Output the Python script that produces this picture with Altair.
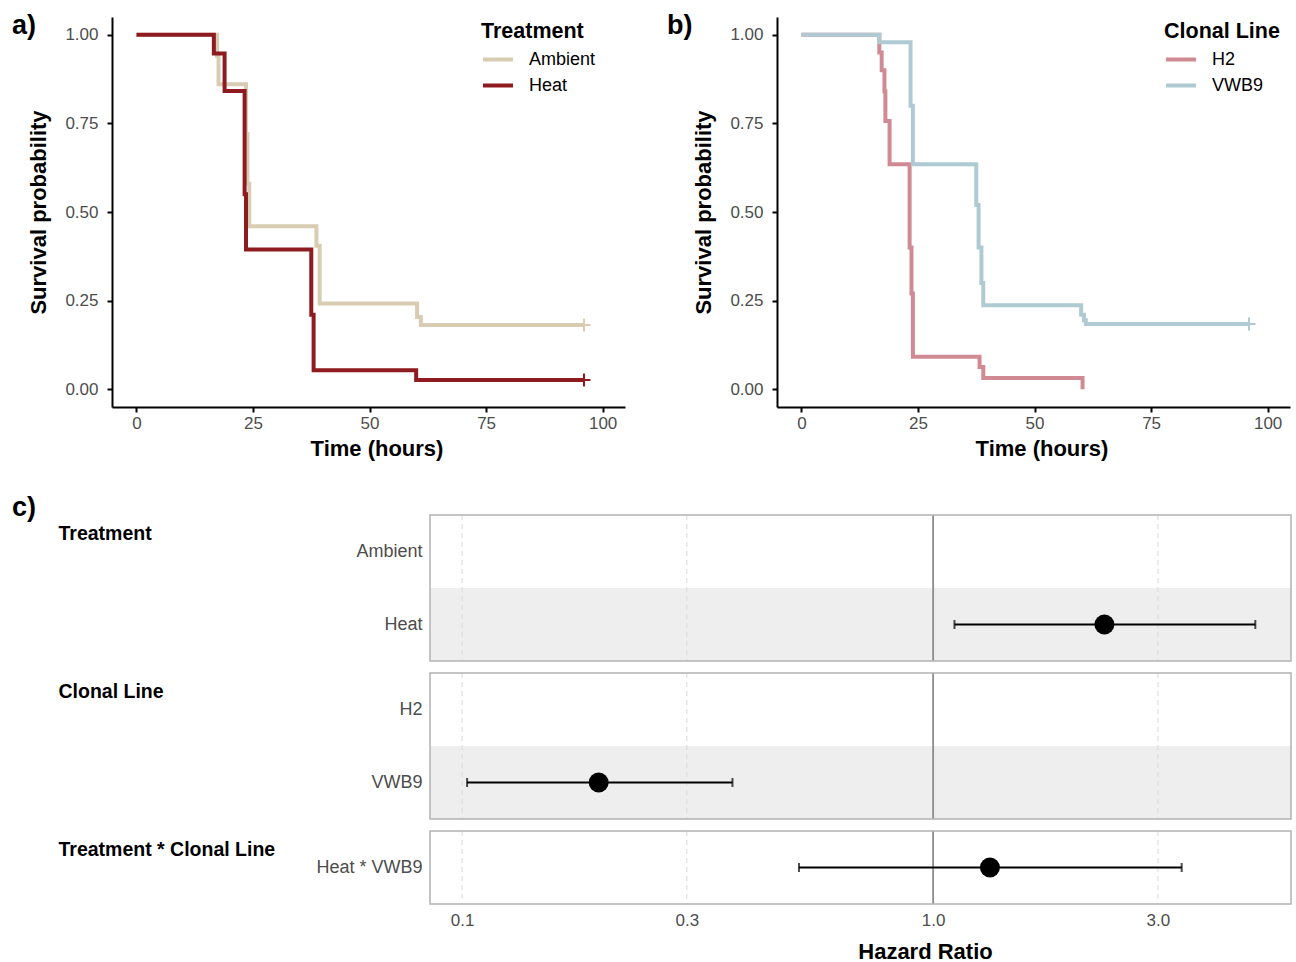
import altair as alt
import pandas as pd

FONT = "Liberation Sans"
GREY = "#4D4D4D"

# ---------------- data ----------------
# Panel a: Kaplan-Meier survival by treatment
amb_t = [0, 17.3, 17.6, 23.5, 23.8, 24.2, 38.6, 39.3, 60.2, 61.0, 96]
amb_s = [1.0, 0.94, 0.86, 0.72, 0.58, 0.46, 0.405, 0.242, 0.204, 0.181, 0.181]
heat_t = [0, 16.6, 18.9, 23.2, 23.5, 37.5, 38.0, 60.0, 96]
heat_s = [1.0, 0.947, 0.841, 0.55, 0.394, 0.21, 0.054, 0.026, 0.026]

# Panel b: Kaplan-Meier survival by clonal line
h2_t = [0, 16.7, 17.2, 17.8, 18.0, 18.9, 23.2, 23.6, 23.9, 38.2, 39.0, 60.3]
h2_s = [1.0, 0.95, 0.90, 0.84, 0.757, 0.635, 0.40, 0.27, 0.092, 0.063, 0.032, 0.0]
vwb_t = [0, 16.7, 23.4, 23.9, 37.5, 38.0, 38.6, 39.0, 60.0, 60.6, 61.0, 96]
vwb_s = [1.0, 0.979, 0.80, 0.635, 0.52, 0.40, 0.30, 0.237, 0.21, 0.195, 0.184, 0.184]

# censoring marks
cens_a_grp = ["Ambient", "Heat"]
cens_a_t = [96, 96]
cens_a_s = [0.181, 0.026]
cens_b_grp = ["VWB9"]
cens_b_t = [96]
cens_b_s = [0.184]

treat_names = ["Ambient", "Heat"]
treat_colors = ["#D8CDB2", "#8E1B1F"]
clone_names = ["H2", "VWB9"]
clone_colors = ["#D08A93", "#AFCAD2"]

# Panel c: Cox model hazard ratios
fp_group = ["Treatment", "Treatment", "Clonal Line", "Clonal Line", "Treatment * Clonal Line"]
fp_term = ["Ambient", "Heat", "H2", "VWB9", "Heat * VWB9"]
fp_hr = [None, 2.31, None, 0.195, 1.32]
fp_lo = [None, 1.11, None, 0.1025, 0.519]
fp_hi = [None, 4.83, None, 0.375, 3.37]
fp_shade = [False, True, False, True, False]
grid_vals = [0.1, 0.3, 3.0]
ref_val = [1.0]
hr_ticks = [0.1, 0.3, 1.0, 3.0]

# ---------------- layout constants ----------------
KM_W, KM_H = 513, 390
C_W = 1179          # full width of panel c cell (labels area + plot box)
C_X0 = 318          # left edge of the forest plot box inside the cell
ROW_H = 73


def km_panel(names, colors, t_lists, s_lists, c_grp, c_t, c_s, legend_title,
             letter, letter_x, legend_x):
    rows = []
    for n, ts, ss in zip(names, t_lists, s_lists):
        for t, s in zip(ts, ss):
            rows.append({"grp": n, "t": t, "s": s})
    df = pd.DataFrame(rows)
    cmap = dict(zip(names, colors))
    cdf = pd.DataFrame({"grp": c_grp, "t": c_t, "s": c_s})
    cdf["col"] = cdf["grp"].map(cmap)

    xs = alt.Scale(domain=[-5.25, 104.8], nice=False, zero=False)
    ys = alt.Scale(domain=[-0.05, 1.05], nice=False, zero=False)
    xaxis = alt.Axis(values=[0, 25, 50, 75, 100], labelFontSize=17, labelColor=GREY,
                     labelFont=FONT, tickColor="black", tickWidth=2, tickSize=5,
                     domainColor="black", domainWidth=2, labelPadding=3, grid=False,
                     titleFontSize=22, titleFont=FONT, titleFontWeight="bold",
                     titleColor="black", titlePadding=7, titleX=KM_W / 2 + 8)
    yaxis = alt.Axis(values=[0, 0.25, 0.5, 0.75, 1.0], format=".2f", labelFontSize=17,
                     labelColor=GREY, labelFont=FONT, tickColor="black", tickWidth=2,
                     tickSize=5, domainColor="black", domainWidth=2, labelPadding=9,
                     grid=False, titleFontSize=22, titleFont=FONT, titleFontWeight="bold",
                     titleColor="black", titlePadding=14)
    x = alt.X("t:Q", scale=xs, axis=xaxis, title="Time (hours)")
    y = alt.Y("s:Q", scale=ys, axis=yaxis, title="Survival probability")

    lines = alt.Chart(df).mark_line(interpolate="step-after", strokeWidth=4).encode(
        x=x, y=y,
        color=alt.Color("grp:N", scale=alt.Scale(domain=names, range=colors),
                        legend=alt.Legend(title=legend_title, orient="none",
                                          legendX=legend_x, legendY=4,
                                          symbolType="stroke", symbolSize=900,
                                          symbolStrokeWidth=4, labelFontSize=18,
                                          labelFont=FONT, labelColor="black",
                                          titleFontSize=21.5, titleFont=FONT,
                                          titleFontWeight="bold", titleColor="black",
                                          titleAnchor="start", padding=0,
                                          rowPadding=-6, titlePadding=0,
                                          labelOffset=14, symbolOffset=0)),
    )
    cens = alt.Chart(cdf).mark_point(shape="M-1,0H1M0,-1V1", filled=False,
                                     strokeWidth=2, size=169, opacity=1).encode(
        x=x, y=y, color=alt.Color("col:N", scale=None))
    lab = alt.Chart(pd.DataFrame({"lab": [letter]})).mark_text(
        align="left", baseline="alphabetic", fontSize=27, fontWeight="bold",
        font=FONT, color="black").encode(text="lab:N", x=alt.value(letter_x),
                                          y=alt.value(17))
    return alt.layer(lines, cens, lab).properties(
        width=KM_W, height=KM_H, view=alt.ViewBackground(strokeWidth=0))


panel_a = km_panel(treat_names, treat_colors, [amb_t, heat_t], [amb_s, heat_s],
                   cens_a_grp, cens_a_t, cens_a_s, "Treatment", "a)", -100, 369)
panel_b = km_panel(clone_names, clone_colors, [h2_t, vwb_t], [h2_s, vwb_s],
                   cens_b_grp, cens_b_t, cens_b_s, "Clonal Line", "b)", -110, 387)

fp = pd.DataFrame({"grp": fp_group, "term": fp_term, "hr": fp_hr, "lo": fp_lo,
                   "hi": fp_hi, "shade": fp_shade})


def forest_panel(group, last, letter=None):
    sub = fp[fp["grp"] == group]
    terms = list(sub["term"])
    est = sub.dropna(subset=["hr"])
    shaded = sub[sub["shade"]]
    h = ROW_H * len(terms)
    xs = alt.Scale(type="log", domain=[0.0855, 5.75], nice=False, range=[C_X0, C_W])
    if last:
        xaxis = alt.Axis(values=hr_ticks, format=".1f", labelFontSize=17, labelColor=GREY,
                         labelFont=FONT, ticks=False, domain=False, grid=False,
                         labelPadding=8, titleFontSize=22, titleFont=FONT,
                         titleFontWeight="bold", titleColor="black", titlePadding=13,
                         titleX=813)
    else:
        xaxis = None

    def X(field):
        if xaxis is None:
            return alt.X(field, scale=xs, axis=None)
        return alt.X(field, scale=xs, axis=xaxis, title="Hazard Ratio")

    y = alt.Y("term:N", sort=terms,
              scale=alt.Scale(domain=terms, paddingInner=0, paddingOuter=0),
              title=group,
              axis=alt.Axis(ticks=False, domain=False, labelPadding=8, labelFontSize=18,
                            labelColor=GREY, labelFont=FONT, offset=-C_X0,
                            titleAngle=0, titleX=-372, titleY=24, titleAlign="left",
                            titleBaseline="alphabetic", titleFontSize=19.5,
                            titleFont=FONT, titleFontWeight="bold", titleColor="black"))
    layers = []
    if len(shaded):
        layers.append(alt.Chart(shaded).mark_rect(color="#EEEEEE").encode(
            y=y, x=alt.value(C_X0), x2=alt.value(C_W)))
    layers.append(alt.Chart(pd.DataFrame({"v": grid_vals})).mark_rule(
        strokeDash=[5, 4], color="#D9D9D9", strokeWidth=1).encode(x=X("v:Q")))
    layers.append(alt.Chart(pd.DataFrame({"v": ref_val})).mark_rule(
        color="#8C8C8C", strokeWidth=1.8).encode(x=X("v:Q")))
    layers.append(alt.Chart(est).mark_rule(color="black", strokeWidth=2).encode(
        x=X("lo:Q"), x2="hi:Q", y=y))
    layers.append(alt.Chart(est).mark_tick(color="black", thickness=2, size=9).encode(
        x=X("lo:Q"), y=y))
    layers.append(alt.Chart(est).mark_tick(color="black", thickness=2, size=9).encode(
        x=X("hi:Q"), y=y))
    layers.append(alt.Chart(est).mark_circle(color="black", size=400, opacity=1).encode(
        x=X("hr:Q"), y=y))
    # panel frame
    layers.append(alt.Chart(pd.DataFrame({"f": [group]})).mark_rect(
        fillOpacity=0, stroke="#B3B3B3", strokeWidth=1.5).encode(
        x=alt.value(C_X0), x2=alt.value(C_W), y=alt.value(0), y2=alt.value(h)))
    if letter:
        layers.append(alt.Chart(pd.DataFrame({"lab": [letter]})).mark_text(
            align="left", baseline="alphabetic", fontSize=27, fontWeight="bold",
            font=FONT, color="black").encode(text="lab:N", x=alt.value(-100),
                                              y=alt.value(0.5)))
    return alt.layer(*layers).properties(
        width=C_W, height=h, view=alt.ViewBackground(strokeWidth=0))


c1 = forest_panel("Treatment", False, "c)")
c2 = forest_panel("Clonal Line", False)
c3 = forest_panel("Treatment * Clonal Line", True)

top = alt.hconcat(panel_a, panel_b, spacing=42).resolve_scale(
    color="independent").resolve_legend(color="independent")
bottom = alt.vconcat(c1, c2, c3, spacing=10)

chart = alt.vconcat(top, bottom, spacing=34).properties(
    padding={"left": 12, "top": 12, "right": 0, "bottom": 0}
).configure(font=FONT, background="white")

chart.save("out.html", embed_options={"renderer": "svg", "actions": False})
